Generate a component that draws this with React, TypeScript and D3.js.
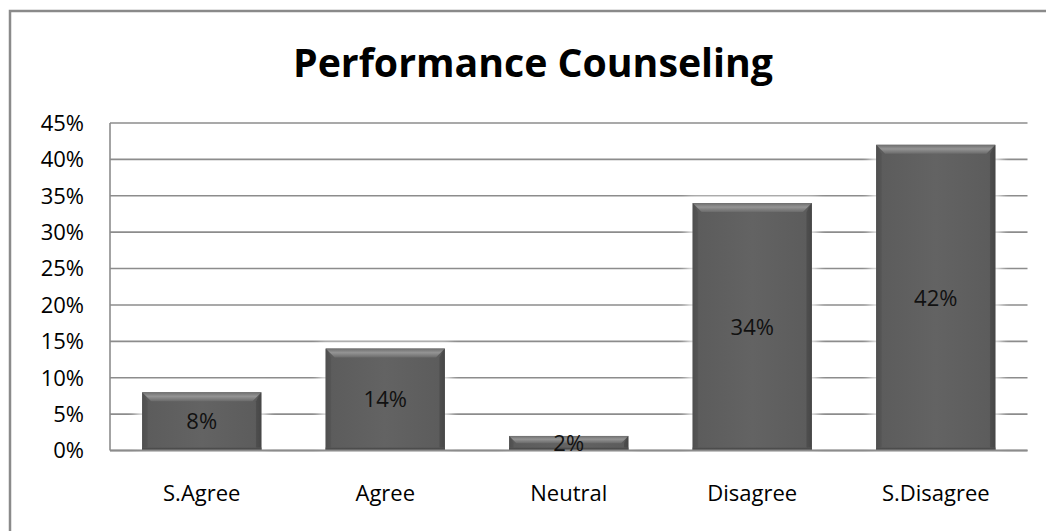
import React from "react";
import * as d3 from "d3";

const categories = ["S.Agree", "Agree", "Neutral", "Disagree", "S.Disagree"];
const values = [8, 14, 2, 34, 42];
const yTicks = [0, 5, 10, 15, 20, 25, 30, 35, 40, 45];
const title = "Performance Counseling";

const W = 1046;
const H = 531;
const plot = { left: 110, right: 1027.5, top: 123, bottom: 450.5 };
const FONT = "'Open Sans', 'Liberation Sans', sans-serif";

export default function App() {
  const x = d3
    .scaleBand<string>()
    .domain(categories)
    .range([plot.left, plot.right])
    .paddingInner(0.35)
    .paddingOuter(0.175);
  const y = d3.scaleLinear().domain([0, 45]).range([plot.bottom, plot.top]);
  const bw = x.bandwidth();
  const bev = 9;

  return (
    <svg
      width={W}
      height={H}
      style={{ position: "absolute", left: 0, top: 0, display: "block", background: "#fff" }}
    >
      <defs>
        <linearGradient id="face" x1="0" x2="1" y1="0" y2="0">
          <stop offset="0" stopColor="#4e4e4e" />
          <stop offset="0.04" stopColor="#5c5c5c" />
          <stop offset="0.5" stopColor="#636363" />
          <stop offset="0.96" stopColor="#5c5c5c" />
          <stop offset="1" stopColor="#4a4a4a" />
        </linearGradient>
        <linearGradient id="topBevel" x1="0" x2="0" y1="0" y2="1">
          <stop offset="0" stopColor="#6e6e6e" />
          <stop offset="0.45" stopColor="#949494" />
          <stop offset="1" stopColor="#6a6a6a" />
        </linearGradient>
        <linearGradient id="bottomBevel" x1="0" x2="0" y1="0" y2="1">
          <stop offset="0" stopColor="#555" />
          <stop offset="1" stopColor="#3c3c3c" />
        </linearGradient>
        <filter id="glow" x="-20%" y="-20%" width="140%" height="140%">
          <feGaussianBlur stdDeviation="4" />
        </filter>
      </defs>

      {/* chart frame */}
      <rect x={10} y={11} width={1100} height={600} fill="#fff" stroke="#8a8a8a" strokeWidth={2.5} />

      {/* title */}
      <text
        x={533}
        y={77}
        textAnchor="middle"
        fontFamily={FONT}
        fontWeight={700}
        fontSize={40}
        textLength={480}
        lengthAdjust="spacingAndGlyphs"
        fill="#000"
      >
        {title}
      </text>

      {/* gridlines */}
      {yTicks.map((t) => (
        <line
          key={t}
          x1={plot.left}
          x2={plot.right}
          y1={y(t)}
          y2={y(t)}
          stroke="#8c8c8c"
          strokeWidth={1.6}
        />
      ))}
      <line x1={plot.left} x2={plot.left} y1={plot.top} y2={plot.bottom} stroke="#8c8c8c" strokeWidth={1.6} />

      {/* y tick labels */}
      {yTicks.map((t) => (
        <text
          key={t}
          x={84}
          y={y(t)}
          dy="0.36em"
          textAnchor="end"
          fontFamily={FONT}
          fontSize={22}
          fill="#000"
        >
          {t}%
        </text>
      ))}

      {/* bars */}
      {categories.map((c, i) => {
        const x0 = x(c) as number;
        const y0 = y(values[i]);
        const h = plot.bottom - y0;
        const b = Math.min(bev, h / 2);
        return (
          <g key={c}>
            <rect
              x={x0 - 6}
              y={y0 - 6}
              width={bw + 12}
              height={h + 16}
              fill="#fff"
              opacity={0.75}
              filter="url(#glow)"
            />
            <rect x={x0} y={y0} width={bw} height={h} fill="url(#face)" />
            <polygon
              points={`${x0},${y0} ${x0 + bw},${y0} ${x0 + bw - b},${y0 + b} ${x0 + b},${y0 + b}`}
              fill="url(#topBevel)"
            />
            <polygon
              points={`${x0},${y0} ${x0 + b * 0.6},${y0 + b} ${x0 + b * 0.6},${y0 + h - 3} ${x0},${y0 + h}`}
              fill="#505050"
              opacity={0.6}
            />
            <polygon
              points={`${x0 + bw},${y0} ${x0 + bw - b * 0.6},${y0 + b} ${x0 + bw - b * 0.6},${y0 + h - 3} ${x0 + bw},${y0 + h}`}
              fill="#444"
              opacity={0.6}
            />
            <rect x={x0} y={plot.bottom - 3} width={bw} height={3} fill="url(#bottomBevel)" />
          </g>
        );
      })}

      {/* axis baseline over the bars */}
      <line x1={plot.left} x2={plot.right} y1={plot.bottom} y2={plot.bottom} stroke="#8c8c8c" strokeWidth={1.8} />

      {/* value labels */}
      {categories.map((c, i) => (
        <text
          key={c}
          x={(x(c) as number) + bw / 2}
          y={(y(values[i]) + plot.bottom) / 2}
          dy="0.36em"
          textAnchor="middle"
          fontFamily={FONT}
          fontSize={22}
          fill="#111"
        >
          {values[i]}%
        </text>
      ))}

      {/* category labels */}
      {categories.map((c) => (
        <text
          key={c}
          x={(x(c) as number) + bw / 2}
          y={501}
          textAnchor="middle"
          fontFamily={FONT}
          fontSize={22}
          fill="#000"
        >
          {c}
        </text>
      ))}
    </svg>
  );
}
